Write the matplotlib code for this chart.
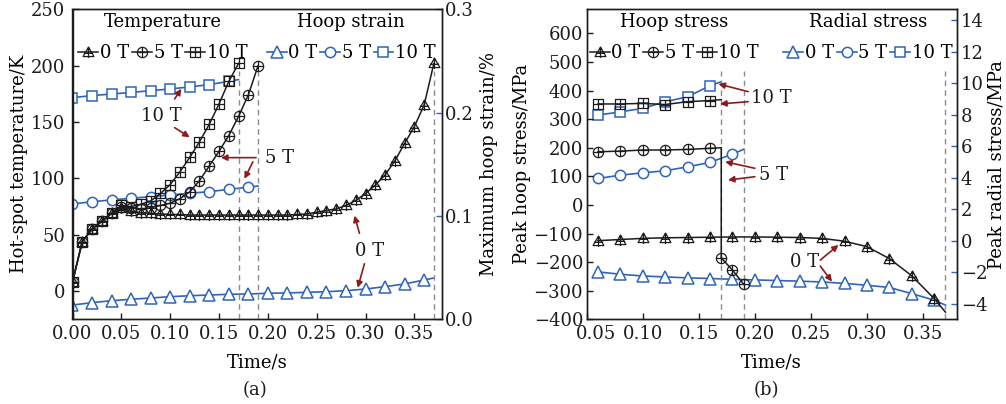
import matplotlib
matplotlib.use('Agg')
import matplotlib.pyplot as plt
from matplotlib.path import Path
from matplotlib.transforms import ScaledTranslation

plt.rcParams['font.family'] = ['DejaVu Serif']
plt.rcParams['font.size'] = 13
plt.rcParams['axes.unicode_minus'] = True

BLACK = '#1c1c1c'
BLUE = '#2f64b9'
ARROW = '#8b1c1c'
GRAY = '#8c8c8c'

# ---- (a) hot-spot temperature (K) and max hoop strain (%) ----
t_temp_0T = [0.00, 0.01, 0.02, 0.03, 0.04, 0.05, 0.06, 0.07, 0.08, 0.09,
             0.10, 0.11, 0.12, 0.13, 0.14, 0.15, 0.16, 0.17, 0.18, 0.19,
             0.20, 0.21, 0.22, 0.23, 0.24, 0.25, 0.26, 0.27, 0.28, 0.29,
             0.30, 0.31, 0.32, 0.33, 0.34, 0.35, 0.36, 0.37]
temp_0T = [8, 44, 55, 62, 69, 74, 71, 69.5, 69, 68.5,
           68, 68, 67.5, 67.5, 67.5, 67.5, 67.5, 67.5, 67.5, 67.5,
           67.5, 67.5, 67.5, 68, 68.5, 70, 71.5, 73, 76, 80.5,
           86.5, 94, 103, 115.5, 131, 146, 165, 202]
t_temp_5T = [0.00, 0.01, 0.02, 0.03, 0.04, 0.05, 0.06, 0.07, 0.08, 0.09,
             0.10, 0.11, 0.12, 0.13, 0.14, 0.15, 0.16, 0.17, 0.18, 0.19]
temp_5T = [8, 44, 55, 62, 69, 75, 74, 73, 74, 76,
           78, 82, 88, 98, 111, 124, 138, 155, 174, 200]
t_temp_10T = [0.00, 0.01, 0.02, 0.03, 0.04, 0.05, 0.06, 0.07, 0.08, 0.09,
              0.10, 0.11, 0.12, 0.13, 0.14, 0.15, 0.16, 0.17]
temp_10T = [8, 44, 55, 62, 69, 76, 75, 77, 80, 86.6,
            94.5, 105.8, 118.6, 132.4, 148, 166, 186, 202]

# strain series: last point only closes the line (no marker)
t_strain_0T = [0.00, 0.02, 0.04, 0.06, 0.08, 0.10, 0.12, 0.14, 0.16, 0.18,
               0.20, 0.22, 0.24, 0.26, 0.28, 0.30, 0.32, 0.34, 0.36, 0.37]
strain_0T = [0.0138, 0.0161, 0.0180, 0.0194, 0.0206, 0.0219, 0.0228, 0.0235, 0.0242, 0.0245,
             0.0252, 0.0255, 0.0261, 0.0267, 0.0277, 0.0293, 0.0316, 0.0342, 0.0380, 0.0400]
t_strain_5T = [0.00, 0.02, 0.04, 0.06, 0.08, 0.10, 0.12, 0.14, 0.16, 0.18, 0.19]
strain_5T = [0.1116, 0.1138, 0.1155, 0.1171, 0.1187, 0.1203, 0.1220, 0.1235, 0.1258, 0.1278, 0.1290]
t_strain_10T = [0.00, 0.02, 0.04, 0.06, 0.08, 0.10, 0.12, 0.14, 0.16, 0.17]
strain_10T = [0.2145, 0.2165, 0.2180, 0.2195, 0.2213, 0.2229, 0.2249, 0.2271, 0.2303, 0.2320]

# ---- (b) peak hoop stress and peak radial stress (MPa) ----
t_hoop_0T = [0.06, 0.08, 0.10, 0.12, 0.14, 0.16, 0.18, 0.20, 0.22, 0.24,
             0.26, 0.28, 0.30, 0.32, 0.34, 0.36, 0.37]
hoop_0T = [-125, -121, -117, -115, -114, -113, -112, -112, -113, -114,
           -117, -127, -146, -188, -248, -328, -375]
t_hoop_5T = [0.06, 0.08, 0.10, 0.12, 0.14, 0.16, 0.17, 0.17, 0.18, 0.19]
hoop_5T = [186, 188, 192, 192, 194, 198, 200, -185, -228, -277]
t_hoop_10T = [0.06, 0.08, 0.10, 0.12, 0.14, 0.16, 0.17]
hoop_10T = [353, 353, 355, 351, 361, 365, 368]

t_rad_0T = [0.06, 0.08, 0.10, 0.12, 0.14, 0.16, 0.18, 0.20, 0.22, 0.24,
            0.26, 0.28, 0.30, 0.32, 0.34, 0.36, 0.37]
rad_0T = [-1.99, -2.14, -2.25, -2.31, -2.37, -2.41, -2.46, -2.50, -2.54, -2.58,
          -2.63, -2.72, -2.84, -2.98, -3.37, -3.79, -4.10]
t_rad_5T = [0.06, 0.08, 0.10, 0.12, 0.14, 0.16, 0.18, 0.19]
rad_5T = [3.94, 4.15, 4.30, 4.43, 4.68, 4.96, 5.49, 5.79]
t_rad_10T = [0.06, 0.08, 0.10, 0.12, 0.14, 0.16, 0.17]
rad_10T = [7.96, 8.17, 8.39, 8.81, 9.13, 9.83, 10.08]

field_labels = ['0 T', '5 T', '10 T']


def plus_marker(kind):
    # outline shape with a cross drawn through it
    if kind == 'tri':
        shape = Path([(0, 1), (-1, -0.75), (1, -0.75), (0, 1)],
                     [Path.MOVETO, Path.LINETO, Path.LINETO, Path.CLOSEPOLY])
        cross = [Path([(0, 1), (0, -1.0)], [Path.MOVETO, Path.LINETO]),
                 Path([(-0.85, -0.15), (0.85, -0.15)], [Path.MOVETO, Path.LINETO])]
    elif kind == 'circ':
        shape = Path.unit_circle()
        cross = [Path([(0, 1), (0, -1)], [Path.MOVETO, Path.LINETO]),
                 Path([(-1, 0), (1, 0)], [Path.MOVETO, Path.LINETO])]
    else:
        shape = Path([(-1, -1), (1, -1), (1, 1), (-1, 1), (-1, -1)],
                     [Path.MOVETO, Path.LINETO, Path.LINETO, Path.LINETO, Path.CLOSEPOLY])
        cross = [Path([(0, 1), (0, -1)], [Path.MOVETO, Path.LINETO]),
                 Path([(-1, 0), (1, 0)], [Path.MOVETO, Path.LINETO])]
    return Path.make_compound_path(shape, *cross)


BLACK_MK = [(plus_marker('tri'), 7.8), (plus_marker('circ'), 7.4), (plus_marker('sq'), 6.9)]
BLUE_MK = [('^', 9.0), ('o', 7.4), ('s', 7.2)]


def black_line(ax, x, y, i, label, markevery=None):
    mk, ms = BLACK_MK[i]
    return ax.plot(x, y, color=BLACK, lw=1.1, marker=mk, ms=ms, mfc='none',
                   mec=BLACK, mew=0.9, markevery=markevery, label=label, zorder=3)[0]


def blue_line(ax, x, y, i, label, markevery=None):
    mk, ms = BLUE_MK[i]
    return ax.plot(x, y, color=BLUE, lw=1.2, marker=mk, ms=ms, mfc='white',
                   mec=BLUE, mew=1.1, markevery=markevery, label=label, zorder=2)[0]


def style_axes(ax, ax2, lpad, rpad):
    for a in (ax, ax2):
        for s in a.spines.values():
            s.set_linewidth(1.0)
            s.set_color(BLACK)
    ax.tick_params(direction='in', length=4.5, width=1.0, colors=BLACK, pad=lpad)
    ax.tick_params(axis='x', pad=4)
    ax.tick_params(top=False, right=False)
    ax2.tick_params(axis='y', direction='in', length=4.5, width=1.0, colors=BLUE,
                    labelcolor=BLACK, pad=rpad)


def add_legends(ax2, h_black, h_blue, t1, t2, x1, x2):
    kw = dict(ncol=3, frameon=False, handlelength=1.1, handletextpad=0.1,
              columnspacing=0.15, borderpad=0.1, borderaxespad=0.1,
              fontsize=13, title_fontsize=13, loc='upper center', labelspacing=0.75)
    leg1 = ax2.legend(handles=h_black, title=t1, bbox_to_anchor=(x1, 1.0), **kw)
    ax2.add_artist(leg1)
    ax2.legend(handles=h_blue, title=t2, bbox_to_anchor=(x2, 1.0), **kw)


def arrow(ax, xy_from, xy_to):
    ax.annotate('', xy=xy_to, xytext=xy_from,
                arrowprops=dict(arrowstyle='-|>', color=ARROW, lw=1.2,
                                mutation_scale=9, shrinkA=0, shrinkB=0))


fig = plt.figure(figsize=(10.06, 4.04), dpi=100)
W, H = 1006, 404
ax_a = fig.add_axes([72.5 / W, 1 - 319.3 / H, (441.7 - 72.5) / W, 310 / H])
ax_b = fig.add_axes([586.7 / W, 1 - 319.3 / H, (956.7 - 586.7) / W, 310 / H])

# ---------------- panel (a) ----------------
ax_a2 = ax_a.twinx()
hb = [black_line(ax_a, t_temp_0T, temp_0T, 0, field_labels[0]),
      black_line(ax_a, t_temp_5T, temp_5T, 1, field_labels[1]),
      black_line(ax_a, t_temp_10T, temp_10T, 2, field_labels[2])]
hs = [blue_line(ax_a2, t_strain_0T, strain_0T, 0, field_labels[0], list(range(len(t_strain_0T) - 1))),
      blue_line(ax_a2, t_strain_5T, strain_5T, 1, field_labels[1], list(range(len(t_strain_5T) - 1))),
      blue_line(ax_a2, t_strain_10T, strain_10T, 2, field_labels[2], list(range(len(t_strain_10T) - 1)))]
ax_a.set_zorder(ax_a2.get_zorder() + 1)
ax_a.patch.set_visible(False)

for xv in (0.17, 0.19, 0.37):
    ax_a.axvline(xv, ymin=0, ymax=0.8, color=GRAY, lw=1.0, ls=(0, (4, 3)), zorder=1)

ax_a.set_xlim(0, 0.378)
ax_a.set_ylim(-25, 250)
ax_a.set_xticks([0.00, 0.05, 0.10, 0.15, 0.20, 0.25, 0.30, 0.35])
ax_a.set_xticklabels(['0.00', '0.05', '0.10', '0.15', '0.20', '0.25', '0.30', '0.35'])
ax_a.set_yticks([0, 50, 100, 150, 200, 250])
ax_a2.set_ylim(0, 0.3)
ax_a2.set_yticks([0.0, 0.1, 0.2, 0.3])
ax_a2.set_yticklabels(['0.0', '0.1', '0.2', '0.3'])
style_axes(ax_a, ax_a2, 5, 2.5)
ax_a.set_xlabel('Time/s', labelpad=8)
ax_a.set_ylabel('Hot-spot temperature/K', labelpad=2)
ax_a2.set_ylabel('Maximum hoop strain/%', labelpad=4)
add_legends(ax_a2, hb, hs, 'Temperature', 'Hoop strain', 0.245, 0.755)

ax_a.text(0.091, 155, '10 T', ha='center', va='center', color=BLACK)
arrow(ax_a, (0.1046, 170.5), (0.1114, 179.5))
arrow(ax_a, (0.1046, 145), (0.120, 136.5))
ax_a.text(0.212, 118, '5 T', ha='center', va='center', color=BLACK)
arrow(ax_a, (0.188, 118.4), (0.152, 118.4))
arrow(ax_a, (0.1847, 114.7), (0.176, 99.6))
ax_a.text(0.304, 36, '0 T', ha='center', va='center', color=BLACK)
arrow(ax_a, (0.2938, 51.3), (0.2887, 67))
arrow(ax_a, (0.2989, 24.2), (0.292, 3))
fig.text(255 / W, 1 - 390 / H, '(a)', ha='center', va='center', color=BLACK)

# ---------------- panel (b) ----------------
ax_b2 = ax_b.twinx()
hb = [black_line(ax_b, t_hoop_0T, hoop_0T, 0, field_labels[0], list(range(len(t_hoop_0T) - 1))),
      black_line(ax_b, t_hoop_5T, hoop_5T, 1, field_labels[1], [0, 1, 2, 3, 4, 5, 7, 8, 9]),
      black_line(ax_b, t_hoop_10T, hoop_10T, 2, field_labels[2], list(range(len(t_hoop_10T) - 1)))]
hr = [blue_line(ax_b2, t_rad_0T, rad_0T, 0, field_labels[0], list(range(len(t_rad_0T) - 1))),
      blue_line(ax_b2, t_rad_5T, rad_5T, 1, field_labels[1], list(range(len(t_rad_5T) - 1))),
      blue_line(ax_b2, t_rad_10T, rad_10T, 2, field_labels[2], list(range(len(t_rad_10T) - 1)))]
ax_b.set_zorder(ax_b2.get_zorder() + 1)
ax_b.patch.set_visible(False)

for xv in (0.17, 0.19, 0.37):
    ax_b.axvline(xv, ymin=0, ymax=0.8, color=GRAY, lw=1.0, ls=(0, (4, 3)), zorder=1)

ax_b.set_xlim(0.05, 0.38)
ax_b.set_ylim(-400, 684)
ax_b.set_xticks([0.05, 0.10, 0.15, 0.20, 0.25, 0.30, 0.35])
ax_b.set_xticklabels(['0.05', '0.10', '0.15', '0.20', '0.25', '0.30', '0.35'])
ax_b.set_yticks([-400, -300, -200, -100, 0, 100, 200, 300, 400, 500, 600])
ax_b2.set_ylim(-5, 14.68)
ax_b2.set_yticks([-4, -2, 0, 2, 4, 6, 8, 10, 12, 14])
style_axes(ax_b, ax_b2, 2.5, 3.0)
first = ax_b.get_xticklabels()[0]
first.set_transform(first.get_transform() + ScaledTranslation(9 / 100, 0, fig.dpi_scale_trans))
ax_b.set_xlabel('Time/s', labelpad=8)
ax_b.set_ylabel('Peak hoop stress/MPa', labelpad=2)
ax_b2.set_ylabel('Peak radial stress/MPa', labelpad=0)
add_legends(ax_b2, hb, hr, 'Hoop stress', 'Radial stress', 0.237, 0.76)

ax_b.text(0.215, 373, '10 T', ha='center', va='center', color=BLACK)
arrow(ax_b, (0.194, 396), (0.1675, 423))
arrow(ax_b, (0.194, 361), (0.169, 353))
ax_b.text(0.2166, 104, '5 T', ha='center', va='center', color=BLACK)
arrow(ax_b, (0.200, 128), (0.1735, 151))
arrow(ax_b, (0.200, 98.6), (0.176, 87))
ax_b.text(0.244, -199, '0 T', ha='center', va='center', color=BLACK)
arrow(ax_b, (0.2583, -193), (0.2746, -140))
arrow(ax_b, (0.2583, -214), (0.2688, -268))
fig.text(766.7 / W, 1 - 390 / H, '(b)', ha='center', va='center', color=BLACK)

fig.savefig('out.png', dpi=100)
